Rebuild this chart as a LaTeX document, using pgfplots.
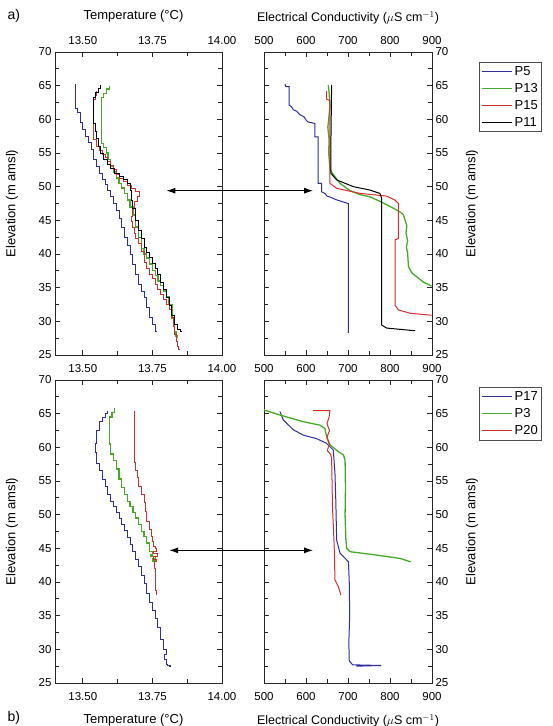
\documentclass[border=0pt]{standalone}
\usepackage{pgfplots}
\pgfplotsset{compat=1.18}
\usepackage{fontspec}
\setmainfont{Liberation Sans}
\usetikzlibrary{arrows.meta}
\definecolor{cblue}{RGB}{45,45,155}
\definecolor{cgreen}{RGB}{70,170,40}
\definecolor{cred}{RGB}{215,45,45}
\pgfplotsset{
 base/.style={scale only axis, height=303pt, ymin=25, ymax=70,
  ytick={25,30,...,70}, minor ytick={27.5,32.5,...,67.5},
  tick align=inside, major tick length=5pt, minor tick length=4pt,
  axis line style={line width=0.9pt, black!85},
  every tick/.style={black!85, line width=0.8pt},
  tick label style={font=\fontsize{11.5}{13}\selectfont},
  label style={font=\fontsize{13}{15}\selectfont},
  /pgf/number format/assume math mode=true,
  anchor=north west,
  legend cell align=left,
  legend image code/.code={\draw[##1] (0pt,0pt) -- (30pt,0pt);},
  legend style={draw=black!70, line width=0.6pt, font=\fontsize{13}{15}\selectfont,
    anchor=north west, inner xsep=2pt, inner ysep=2pt, row sep=2.5pt},
 },
 temp/.style={base, width=167pt, xmin=13.40, xmax=14.00, xtick={13.5,13.75,14},
  minor xtick={13.625,13.875},
  xticklabel style={/pgf/number format/fixed, /pgf/number format/fixed zerofill, /pgf/number format/precision=2},
  ylabel={Elevation (m amsl)},
  ylabel style={at={(axis description cs:-0.257,0.5)}, anchor=center}},
 ec/.style={base, width=168pt, xmin=500, xmax=900, xtick={500,600,...,900},
  minor xtick={550,650,750,850}, yticklabel pos=right,
  ylabel={Elevation (m amsl)},
  ylabel style={at={(axis description cs:1.238,0.5)}, anchor=center}},
 tline/.style={const plot mark right, line width=1pt},
 eline/.style={line width=1pt},
 toplab/.style={xticklabel pos=right, xticklabel style={yshift=4pt}},
 botlab/.style={xticklabel style={yshift=-6pt}},
}
\begin{document}
\begin{tikzpicture}[x=1pt,y=1pt]
\useasboundingbox (0,0) rectangle (553,-726);
% ---------- top left
\begin{axis}[temp, at={(55pt,-52pt)}, toplab,
  xlabel={Temperature (°C)},
  xlabel style={at={(axis description cs:0.47,1.119)}, anchor=center}]
\addplot[tline, cblue] coordinates {(13.475,65.2)(13.48,61.6)(13.49,61.0)(13.50,59.5)(13.51,58.5)(13.52,57.5)(13.53,56.5)(13.54,55.5)(13.55,54.0)(13.56,53.0)(13.57,52.0)(13.58,51.0)(13.59,50.3)(13.60,49.5)(13.61,48.5)(13.62,47.5)(13.63,46.5)(13.64,45.2)(13.65,44.0)(13.66,42.5)(13.67,41.3)(13.68,40.0)(13.69,38.5)(13.70,37.0)(13.71,35.5)(13.72,34.5)(13.73,33.5)(13.74,32.0)(13.75,30.5)(13.76,29.5)(13.765,28.5)};
\addplot[tline, cgreen, line width=1.3pt] coordinates {(13.596,64.95)(13.585,64.5)(13.575,63.8)(13.567,63.2)(13.575,56.4)(13.585,55.8)(13.59,55.0)(13.60,54.0)(13.61,53.0)(13.62,52.2)(13.63,51.3)(13.64,50.5)(13.65,49.8)(13.66,49.0)(13.67,48.0)(13.68,47.0)(13.69,45.8)(13.70,44.0)(13.71,42.5)(13.72,40.8)(13.73,40.0)(13.74,39.4)(13.75,38.5)(13.76,37.6)(13.77,36.8)(13.78,36.0)(13.79,35.3)(13.80,34.5)(13.81,33.6)(13.82,32.5)(13.825,30.5)(13.83,29.5)(13.835,28.5)(13.84,27.8)(13.84,27.5)};
\addplot[tline, cred] coordinates {(13.55,64.2)(13.545,63.6)(13.54,63.0)(13.537,62.4)(13.55,57.0)(13.56,56.0)(13.57,55.3)(13.58,54.8)(13.59,54.3)(13.60,53.8)(13.61,53.2)(13.62,52.5)(13.63,51.8)(13.645,51.2)(13.66,50.7)(13.675,50.2)(13.69,49.8)(13.704,49.3)(13.695,48.5)(13.686,47.8)(13.68,46.8)(13.675,45.5)(13.68,44.8)(13.686,44.0)(13.69,43.0)(13.70,42.3)(13.71,41.5)(13.72,40.3)(13.73,38.8)(13.74,37.8)(13.75,37.0)(13.76,36.3)(13.77,35.5)(13.78,34.8)(13.79,34.0)(13.80,33.3)(13.81,32.5)(13.82,31.7)(13.825,30.5)(13.83,29.2)(13.835,28.0)(13.84,27.0)(13.845,26.2)(13.85,25.8)};
\addplot[tline, black] coordinates {(13.565,65.1)(13.555,64.6)(13.545,64.0)(13.537,63.3)(13.545,59.4)(13.55,58.2)(13.555,57.2)(13.565,56.0)(13.575,55.0)(13.59,54.0)(13.60,53.3)(13.615,52.7)(13.63,52.0)(13.645,51.5)(13.66,51.0)(13.67,50.4)(13.675,49.5)(13.68,48.0)(13.69,46.8)(13.70,45.0)(13.71,43.5)(13.72,42.3)(13.73,41.0)(13.74,40.2)(13.75,39.5)(13.76,38.6)(13.77,37.8)(13.78,37.0)(13.79,35.8)(13.80,34.8)(13.81,33.5)(13.82,32.3)(13.83,30.8)(13.84,29.5)(13.85,28.8)(13.855,28.5)};
\coordinate (A1) at (axis cs:13.80,49.4);
\end{axis}
% ---------- top right
\begin{axis}[ec, at={(264pt,-52pt)}, toplab,
  xlabel={Electrical Conductivity ($\mu$S cm$^{-1}$)},
  xlabel style={at={(axis description cs:0.5,1.112)}, anchor=center, font=\fontsize{12.5}{15}\selectfont},
  legend style={at={(axis description cs:1,1)}, xshift=47pt, yshift=-10pt}]
\addplot[eline, cblue] coordinates {(550,65.2)(552,64.85)(560,64.85)(560,62.1)(565,61.9)(570,61.4)(578,61.2)(585,60.7)(595,60.4)(600,59.9)(605,59.6)(621,59.4)(621,57.4)(629,57.4)(629,50.5)(637,50.5)(637,49.25)(645,49.0)(650,48.6)(660,48.4)(670,48.1)(680,47.9)(690,47.7)(701,47.5)(701,28.3)};
\addplot[eline, cgreen, line width=1.3pt] coordinates {(653,65.1)(655,64.0)(657,62.0)(654,60.0)(652,58.8)(655,57.0)(654,55.0)(656,53.5)(658,52.5)(665,51.8)(681,50.5)(697,49.75)(705,49.4)(730,48.8)(752,48.5)(780,47.7)(808,46.8)(825,46.2)(832,45.8)(836,45.0)(840,44.2)(838,43.1)(842,42.0)(839,41.0)(842,40.1)(844,38.1)(852,37.2)(864,36.6)(880,35.8)(899,35.25)};
\addplot[eline, cred] coordinates {(649,64.2)(649,63.0)(657,62.8)(657,50.5)(673,49.75)(729,49.0)(792,48.6)(812,48.0)(820,47.5)(820,42.3)(812,42.1)(812,32.4)(820,31.7)(848,31.2)(899,30.9)};
\addplot[eline, black] coordinates {(661,65.1)(660,60)(659,55)(659,52.0)(673,51.0)(713,50.0)(752,49.5)(776,49.0)(780,48.3)(780,29.45)(792,29.0)(860,28.6)};
\legend{P5,P13,P15,P11}
\coordinate (B1) at (axis cs:617,49.4);
\end{axis}
% ---------- bottom left
\begin{axis}[temp, at={(55pt,-380pt)}, botlab,
  xlabel={Temperature (°C)},
  xlabel style={at={(axis description cs:0.47,-0.122)}, anchor=center}]
\addplot[tline, cblue] coordinates {(13.588,65.45)(13.58,65.0)(13.57,64.5)(13.56,63.8)(13.55,62.5)(13.545,60.5)(13.55,59.2)(13.56,57.6)(13.57,56.5)(13.58,55.2)(13.59,54.2)(13.60,53.0)(13.61,52.0)(13.62,51.2)(13.63,50.3)(13.64,49.5)(13.65,48.5)(13.66,47.6)(13.67,46.6)(13.68,45.5)(13.69,44.5)(13.70,43.4)(13.71,42.3)(13.72,41.0)(13.73,39.8)(13.74,38.3)(13.75,37.0)(13.76,35.8)(13.77,34.6)(13.78,33.2)(13.79,31.5)(13.80,30.0)(13.795,29.2)(13.80,28.5)(13.805,27.8)(13.815,27.6)(13.808,27.45)};
\addplot[tline, cgreen, line width=1.3pt] coordinates {(13.614,65.8)(13.605,65.2)(13.596,64.5)(13.60,60.5)(13.61,59.0)(13.62,58.0)(13.63,56.8)(13.64,55.3)(13.65,54.0)(13.66,53.0)(13.67,52.0)(13.68,51.2)(13.69,50.3)(13.70,49.5)(13.71,48.5)(13.72,47.5)(13.73,46.8)(13.74,45.8)(13.75,44.5)(13.745,44.0)(13.76,43.8)(13.75,43.5)(13.765,43.3)(13.75,43.1)};
\addplot[tline, cred] coordinates {(13.686,65.45)(13.69,57.8)(13.695,56.5)(13.70,55.5)(13.71,54.2)(13.72,53.0)(13.725,51.8)(13.73,50.5)(13.74,49.0)(13.745,47.8)(13.75,46.8)(13.755,46.0)(13.76,45.3)(13.765,45.0)(13.755,44.6)(13.768,44.2)(13.755,43.8)(13.765,43.4)(13.758,43.0)(13.76,42.0)(13.76,39.0)(13.765,38.8)(13.765,38.1)};
\coordinate (A2) at (axis cs:13.81,44.7);
\end{axis}
\begin{axis}[temp, at={(55pt,-380pt)}, toplab, hide y axis, ylabel={}]
\end{axis}
% ---------- bottom right
\begin{axis}[ec, at={(264pt,-380pt)}, botlab,
  xlabel={Electrical Conductivity ($\mu$S cm$^{-1}$)},
  xlabel style={at={(axis description cs:0.5,-0.125)}, anchor=center, font=\fontsize{12.5}{15}\selectfont},
  legend style={at={(axis description cs:1,1)}, xshift=47pt, yshift=-7pt}]
\addplot[eline, cblue] coordinates {(538,65.3)(546,64.06)(570,62.6)(594,61.8)(625,61.3)(649,60.6)(665,59.6)(669,56.1)(671,52)(673,46.2)(681,44.3)(701,43.0)(703,40)(704,35)(702,31)(703,28.3)(711,27.7)(779,27.6)(720,27.5)};
\addplot[eline, cgreen, line width=1.3pt] coordinates {(495,65.8)(502,65.5)(538,64.8)(594,63.8)(633,63.3)(645,62.8)(649,61.6)(657,60.4)(677,59.35)(689,58.9)(693,58.1)(694,54)(693,50)(695,46.2)(697,45.0)(705,44.5)(768,44.0)(824,43.5)(849,43.0)};
\addplot[eline, cred] coordinates {(617,65.45)(657,65.45)(655,64.5)(650,63.5)(656,62.5)(650,61.5)(655,60.5)(651,59.5)(658,59.0)(661,58.4)(663,51.2)(667,45.6)(669,40.3)(677,39.3)(683,38.1)};
\legend{P17,P3,P20}
\coordinate (B2) at (axis cs:617,44.7);
\end{axis}
\begin{axis}[ec, at={(264pt,-380pt)}, toplab, hide y axis, ylabel={}]
\end{axis}
\draw[{Latex[length=9pt,width=6pt]}-{Latex[length=9pt,width=6pt]}, line width=1.1pt] (A1) -- (B1);
\draw[{Latex[length=9pt,width=6pt]}-{Latex[length=9pt,width=6pt]}, line width=1.1pt] (A2) -- (B2);
\node[anchor=west, font=\fontsize{14}{16}\selectfont] at (4,-16) {a)};
\node[anchor=west, font=\fontsize{14}{16}\selectfont] at (4,-718) {b)};
\end{tikzpicture}
\end{document}
